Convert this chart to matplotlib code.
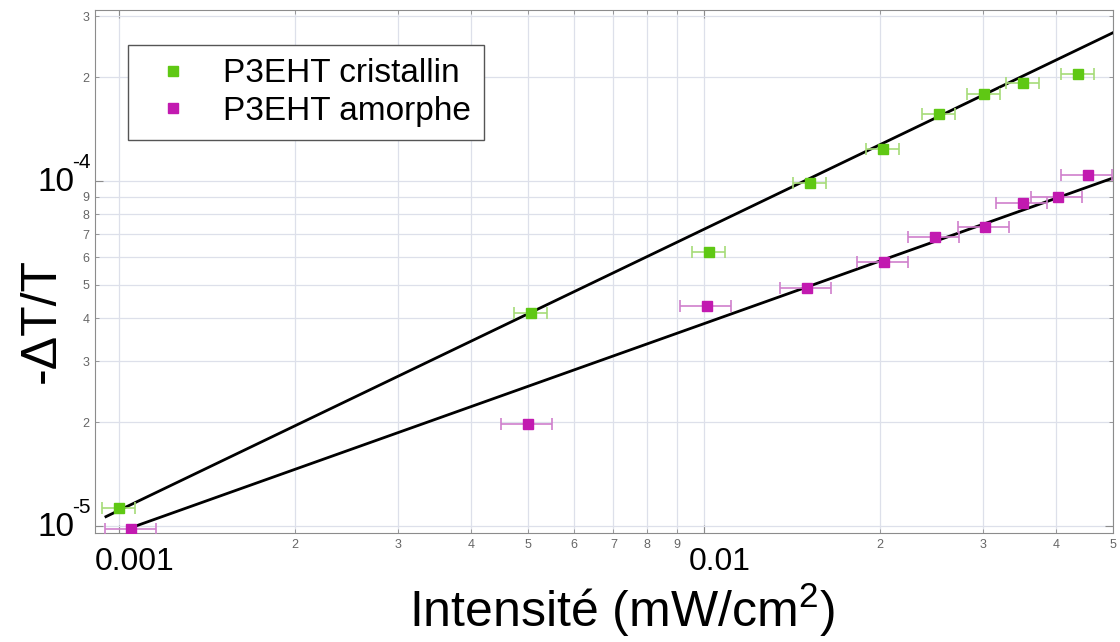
import numpy as np
import matplotlib
matplotlib.use('Agg')
import matplotlib.pyplot as plt
from matplotlib.lines import Line2D
from matplotlib.ticker import FuncFormatter, LogLocator, NullFormatter

plt.rcParams['font.family'] = ['Liberation Sans', 'DejaVu Sans']
plt.rcParams['mathtext.default'] = 'regular'

# Données
intens_cris = [0.00100, 0.00506, 0.0102, 0.0152, 0.0202, 0.0252, 0.0301, 0.0351, 0.0436]
dtt_cris = [1.13e-5, 4.14e-5, 6.22e-5, 9.85e-5, 1.24e-4, 1.56e-4, 1.79e-4, 1.92e-4, 2.04e-4]
intens_amor = [0.00105, 0.00500, 0.0101, 0.0150, 0.0203, 0.0248, 0.0302, 0.0351, 0.0403, 0.0453]
dtt_amor = [0.98e-5, 1.98e-5, 4.34e-5, 4.90e-5, 5.82e-5, 6.88e-5, 7.36e-5, 8.64e-5, 8.99e-5, 1.04e-4]
err_rel_cris = 0.065
err_rel_amor = 0.10

# Ajustements en loi de puissance : y = y_ref * (x / x_ref) ** pente
x_ref = 0.05
fit_cris = {'pente': 0.815, 'y_ref': 2.69e-4, 'x_min': 0.00095}
fit_amor = {'pente': 0.604, 'y_ref': 1.02e-4, 'x_min': 0.00105}

vert, vert_clair = '#5fc814', '#a6dc78'
mag, mag_clair = '#c21ab0', '#cf7fcc'

fig = plt.figure(figsize=(11.2, 6.42), dpi=100)
ax = fig.add_axes([95/1120, 1 - 533/642, (1113 - 95)/1120, (533 - 10)/642])
ax.set_xscale('log')
ax.set_yscale('log')

for f in (fit_cris, fit_amor):
    xs = np.array([f['x_min'], x_ref])
    ax.plot(xs, f['y_ref'] * (xs / x_ref) ** f['pente'], color='black', lw=2, zorder=4)

ic, ia = np.array(intens_cris), np.array(intens_amor)
ax.errorbar(ic, dtt_cris, xerr=err_rel_cris * ic, fmt='s', color=vert, ecolor=vert_clair,
            ms=7, elinewidth=1.2, capsize=4, capthick=1.2, zorder=5)
ax.errorbar(ia, dtt_amor, xerr=err_rel_amor * ia, fmt='s', color=mag, ecolor=mag_clair,
            ms=7, elinewidth=1.2, capsize=4, capthick=1.2, zorder=5)

ax.set_xlim(0.00091, 0.05)
ax.set_ylim(0.954e-5, 3.13e-4)

ax.grid(which='both', color='#dde0ea', lw=0.9)
for s in ax.spines.values():
    s.set_color('#8c8c8c')
ax.tick_params(which='both', direction='in', top=True, right=True, color='#8c8c8c')
ax.tick_params(which='major', length=6)
ax.tick_params(which='minor', length=3, labelsize=9, labelcolor='#666666', pad=4)

ax.xaxis.set_major_locator(LogLocator(base=10, numticks=10))
ax.yaxis.set_major_locator(LogLocator(base=10, numticks=10))


def chiffre(v, pos):
    e = np.floor(np.log10(v) + 1e-9)
    return '%d' % round(v / 10 ** e)


ax.xaxis.set_minor_formatter(FuncFormatter(chiffre))
ax.yaxis.set_minor_formatter(FuncFormatter(chiffre))
ax.xaxis.set_major_formatter(NullFormatter())
ax.yaxis.set_major_formatter(NullFormatter())

# étiquettes principales, décalées comme sur l'original
x0, x1 = ax.get_xlim()
for v in ax.xaxis.get_majorticklocs():
    if x0 <= v <= x1:
        ax.annotate('%g' % v, xy=(v, 0), xycoords=('data', 'axes fraction'),
                    xytext=(11, -10), textcoords='offset points',
                    ha='center', va='top', fontsize=23)
y0, y1 = ax.get_ylim()
for v in ax.yaxis.get_majorticklocs():
    if y0 <= v <= y1:
        ax.annotate('10', xy=(0, v), xycoords=('axes fraction', 'data'),
                    xytext=(-15, -1), textcoords='offset points',
                    ha='right', va='center', fontsize=24)
        ax.annotate('%d' % round(np.log10(v)), xy=(0, v), xycoords=('axes fraction', 'data'),
                    xytext=(-3.5, 13), textcoords='offset points',
                    ha='right', va='center', fontsize=15)

handles = [Line2D([], [], ls='none', marker='s', ms=7, color=vert),
           Line2D([], [], ls='none', marker='s', ms=7, color=mag)]
leg = ax.legend(handles, ['P3EHT cristallin', 'P3EHT amorphe'], loc='upper left',
                bbox_to_anchor=(0.032, 0.933), borderaxespad=0, fontsize=24,
                fancybox=False, edgecolor='#555555', framealpha=1,
                handlelength=1.9, handletextpad=0.55, labelspacing=0.2, borderpad=0.4)
leg.get_frame().set_linewidth(1.0)

fig.text(42/1120, 1 - 320/642, '-ΔT/T', rotation=90, fontsize=36, ha='center', va='center')
fig.text(622/1120, 1 - 610/642, 'Intensité (mW/cm$^{2}$)', fontsize=36, ha='center', va='center')

fig.savefig('out.png', dpi=100)
